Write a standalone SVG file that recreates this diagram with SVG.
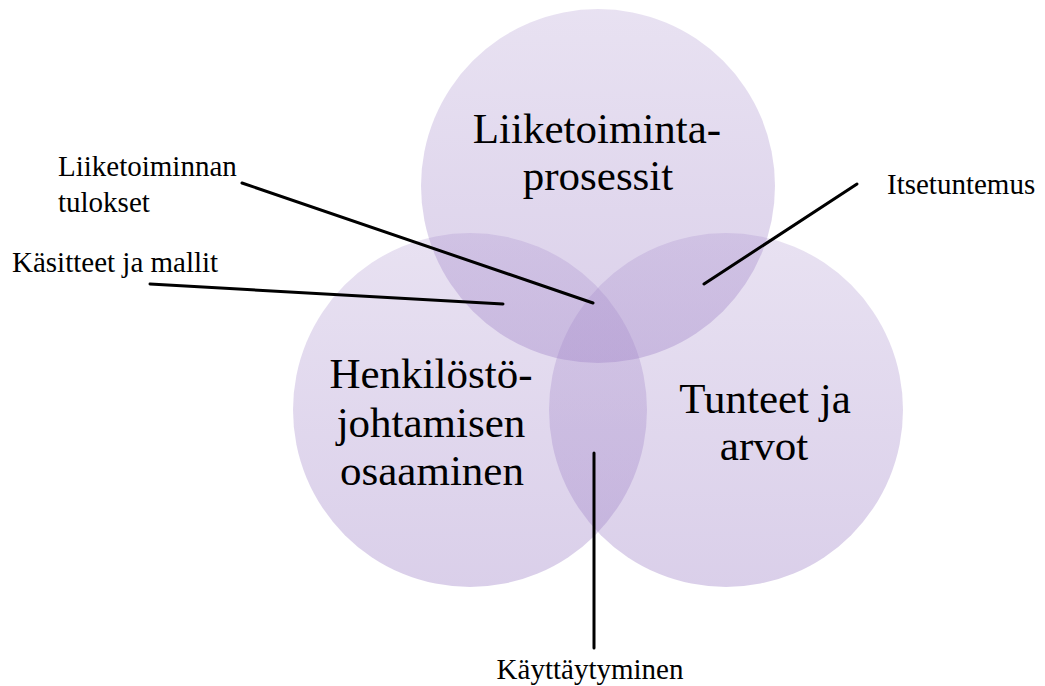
<svg xmlns="http://www.w3.org/2000/svg" width="1045" height="686" viewBox="0 0 1045 686">
  <defs>
    <linearGradient id="g" x1="0" y1="0" x2="0" y2="1">
      <stop offset="0" stop-color="#a084c8" stop-opacity="0.24"/>
      <stop offset="1" stop-color="#a084c8" stop-opacity="0.39"/>
    </linearGradient>
    <style>
      .c { fill: url(#g); }
      .big { font-size: 43px; fill: #000; text-anchor: middle; }
      .sm { font-size: 29px; fill: #000; }
      .ln { stroke: #000; stroke-width: 3; stroke-linecap: round; fill: none; }
    </style>
  </defs>
  <rect width="1045" height="686" fill="#fff"/>
  <g id="node-hr">
    <circle class="c" cx="470" cy="410" r="177"/>
  </g>
  <g id="node-emotions">
    <circle class="c" cx="726" cy="410" r="177"/>
  </g>
  <g id="node-business">
    <circle class="c" cx="598" cy="186" r="177"/>
  </g>
  <g id="labels-circles" font-family="Liberation Serif, Times New Roman, DejaVu Serif, serif">
    <text class="big" x="597" y="143">Liiketoiminta-</text>
    <text class="big" x="598" y="190">prosessit</text>
    <text class="big" x="431" y="388">Henkilöstö-</text>
    <text class="big" x="431" y="437">johtamisen</text>
    <text class="big" x="432" y="485">osaaminen</text>
    <text class="big" x="765" y="413">Tunteet ja</text>
    <text class="big" x="764" y="460">arvot</text>
  </g>
  <g id="connectors">
    <line class="ln" x1="242" y1="183" x2="593" y2="303"/>
    <line class="ln" x1="150" y1="284" x2="503" y2="304"/>
    <line class="ln" x1="857" y1="184" x2="704" y2="284"/>
    <line class="ln" x1="594" y1="453" x2="594" y2="648"/>
  </g>
  <g id="labels-outer" font-family="Liberation Serif, Times New Roman, DejaVu Serif, serif">
    <text class="sm" x="58" y="176">Liiketoiminnan</text>
    <text class="sm" x="58" y="212">tulokset</text>
    <text class="sm" x="12" y="272">Käsitteet ja mallit</text>
    <text class="sm" x="887" y="194">Itsetuntemus</text>
    <text class="sm" x="590" y="679" text-anchor="middle">Käyttäytyminen</text>
  </g>
</svg>
